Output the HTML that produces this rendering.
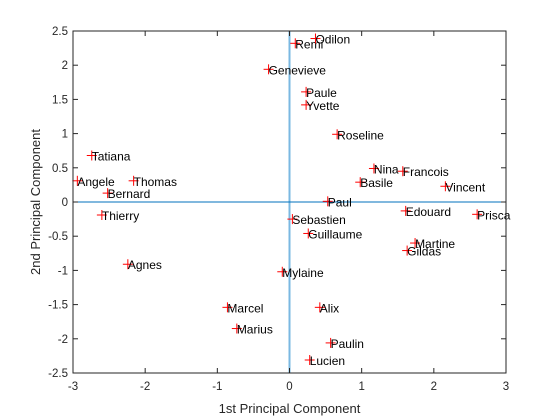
<!DOCTYPE html>
<html><head><meta charset="utf-8"><style>
html,body{margin:0;padding:0;background:#fff;}
svg{display:block;font-family:"Liberation Sans",Arial,sans-serif;}
</style></head><body>
<svg id="chart" width="560" height="420" viewBox="0 0 560 420"></svg>
<script>
const names=["Tatiana","Angele","Thomas","Bernard","Thierry","Agnes","Genevieve","Remi","Mylaine","Sebastien","Odilon","Paule","Yvette","Roseline","Nina","Francois","Basile","Vincent","Paul","Edouard","Prisca","Guillaume","Martine","Gildas","Marcel","Marius","Alix","Paulin","Lucien"];
const pc1=[-2.74,-2.94,-2.16,-2.52,-2.60,-2.24,-0.29,0.08,-0.10,0.04,0.36,0.23,0.23,0.66,1.17,1.57,0.98,2.16,0.53,1.61,2.60,0.26,1.74,1.63,-0.86,-0.73,0.42,0.57,0.28];
const pc2=[0.68,0.31,0.31,0.13,-0.19,-0.91,1.94,2.32,-1.02,-0.25,2.39,1.61,1.42,0.99,0.49,0.45,0.29,0.23,0.01,-0.13,-0.18,-0.46,-0.60,-0.71,-1.54,-1.85,-1.54,-2.06,-2.31];
const xTicks=[-3,-2,-1,0,1,2,3];
const yTicks=[-2.5,-2,-1.5,-1,-0.5,0,0.5,1,1.5,2,2.5];

const NS="http://www.w3.org/2000/svg";
const svg=document.getElementById('chart');
const L=73,R=506,T=31,B=373;
const xmin=-3,xmax=3,ymin=-2.5,ymax=2.5;
function sx(v){return L+(v-xmin)/(xmax-xmin)*(R-L);}
function sy(v){return B-(v-ymin)/(ymax-ymin)*(B-T);}
function mk(tag,attrs,parent){const e=document.createElementNS(NS,tag);for(const k in attrs)e.setAttribute(k,attrs[k]);(parent||svg).appendChild(e);return e;}

const vline=mk('line',{x1:sx(0),x2:sx(0),y1:T,y2:B,stroke:'#7ab8e2','stroke-width':2});


const hline=mk('line',{x1:L,x2:R,y1:sy(0),y2:sy(0),stroke:'#0072bd','stroke-width':1});



const pts=mk('g',{});


for(let i=0;i<names.length;i++){
  const x=sx(pc1[i]),y=sy(pc2[i]);
  const g=mk('g',{},pts);
  
  
  mk('line',{x1:x-5,x2:x+5,y1:y,y2:y,stroke:'#ff0000','stroke-width':1},g);
  mk('line',{x1:x,x2:x,y1:y-5,y2:y+5,stroke:'#ff0000','stroke-width':1},g);
  const t=mk('text',{x:x,y:y+5,'font-size':12,fill:'#000'},g);
  t.textContent=names[i];
  
  
}

const box=mk('rect',{x:L,y:T,width:R-L,height:B-T,fill:'none',stroke:'#262626','stroke-width':1});



const xt=mk('g',{});


xTicks.forEach(v=>{
  const x=sx(v);
  mk('line',{x1:x,x2:x,y1:B,y2:B-5,stroke:'#262626'},xt);
  mk('line',{x1:x,x2:x,y1:T,y2:T+5,stroke:'#262626'},xt);
  const t=mk('text',{x:x,y:B+17,'font-size':11.5,fill:'#262626','text-anchor':'middle'},xt);
  t.textContent=String(v);
  
  
});
const yt=mk('g',{});


yTicks.forEach(v=>{
  const y=sy(v);
  mk('line',{x1:L,x2:L+5,y1:y,y2:y,stroke:'#262626'},yt);
  mk('line',{x1:R,x2:R-5,y1:y,y2:y,stroke:'#262626'},yt);
  const t=mk('text',{x:L-5,y:y+4,'font-size':11.5,fill:'#262626','text-anchor':'end'},yt);
  t.textContent=String(v);
  
  
});
const xl=mk('text',{x:(L+R)/2,y:413,'font-size':13,fill:'#262626','text-anchor':'middle'});
xl.textContent='1st Principal Component';


const yl=mk('text',{x:0,y:0,'font-size':13,fill:'#262626','text-anchor':'middle',transform:'translate(40,'+((T+B)/2)+') rotate(-90)'});
yl.textContent='2nd Principal Component';


</script>
</body></html>
